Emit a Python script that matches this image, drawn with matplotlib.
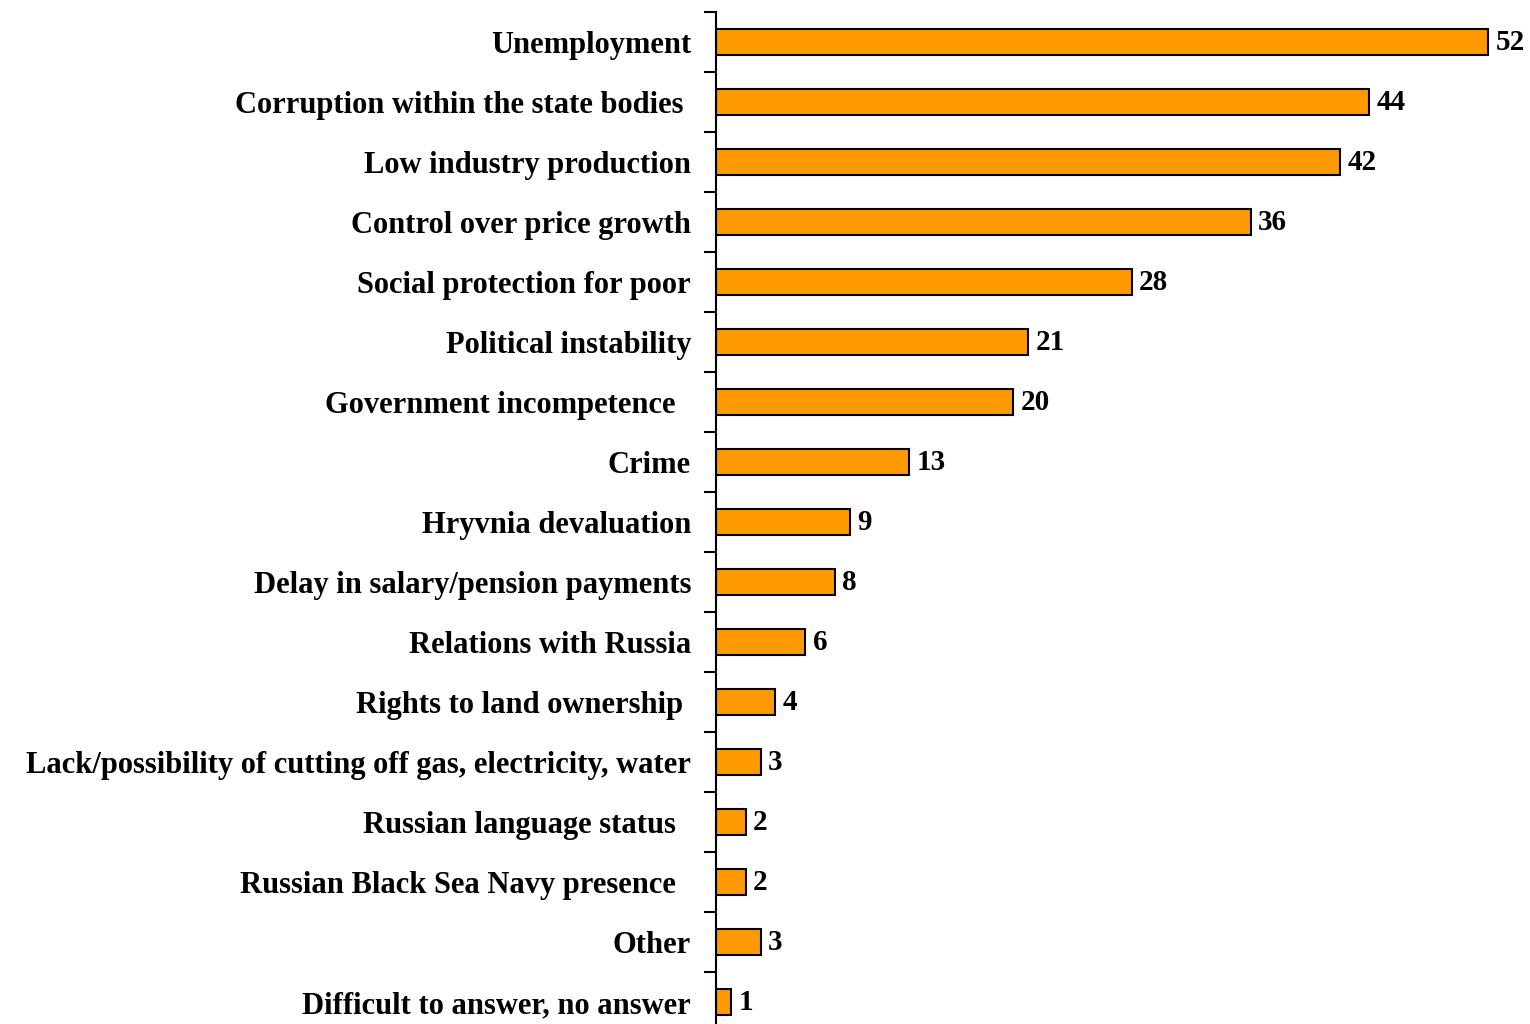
import matplotlib
matplotlib.use("Agg")
import matplotlib.pyplot as plt

categories = [
    "Unemployment",
    "Corruption within the state bodies ",
    "Low industry production",
    "Control over price growth",
    "Social protection for poor",
    "Political instability",
    "Government incompetence  ",
    "Crime",
    "Hryvnia devaluation",
    "Delay in salary/pension payments",
    "Relations with Russia",
    "Rights to land ownership ",
    "Lack/possibility of cutting off gas, electricity, water",
    "Russian language status  ",
    "Russian Black Sea Navy presence  ",
    "Other",
    "Difficult to answer, no answer",
]
values = [52, 44, 42, 36, 28, 21, 20, 13, 9, 8, 6, 4, 3, 2, 2, 3, 1]

plt.rcParams['font.family'] = ['Liberation Serif', 'DejaVu Serif']
plt.rcParams['font.weight'] = 'bold'

fig = plt.figure(figsize=(15.3, 10.24), dpi=100)
# axis line sits at x=716px, runs off the bottom of the picture
ax = fig.add_axes([716 / 1530, 1 - 1032 / 1024, 1 - 716 / 1530, 1020 / 1024])

n = len(categories)
ypos = list(range(n))
ax.barh(ypos, values, height=0.43, color="#FF9900", edgecolor="black", linewidth=1.5)

for y, v in zip(ypos, values):
    ax.text(v + 0.5, y, str(v), va="center", ha="left", fontsize=21, fontweight="bold")

ax.set_ylim(n - 0.5, -0.5)
ax.set_xlim(0, 814 / 14.85)

ax.set_yticks([i - 0.5 for i in range(n + 1)])
ax.set_yticklabels([])
ax.set_yticks(ypos, minor=True)
ax.set_yticklabels(categories, minor=True, fontsize=22, fontweight="bold")
ax.tick_params(axis="y", which="major", length=9, width=1.5, direction="out")
ax.tick_params(axis="y", which="minor", length=0, pad=18)

ax.set_xticks([])
for s in ["top", "right", "bottom"]:
    ax.spines[s].set_visible(False)
ax.spines["left"].set_linewidth(1.5)

fig.savefig("out.png", dpi=100)
